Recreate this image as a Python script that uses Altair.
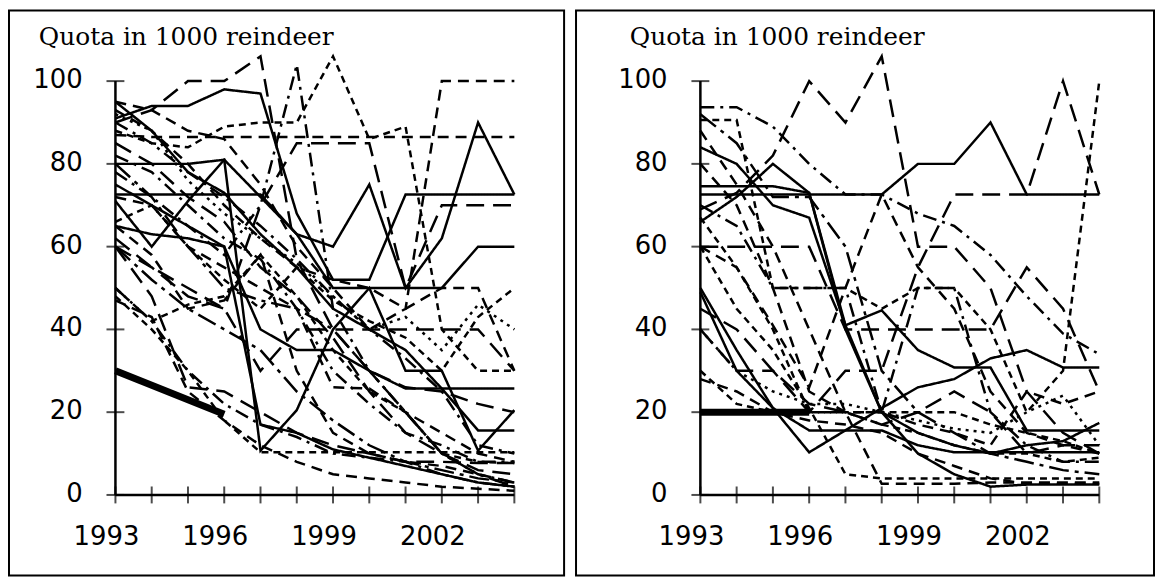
import altair as alt
import pandas as pd

YEARS = list(range(1993, 2005))
X_LABELS = [1993, 1996, 1999, 2002]
Y_LABELS = [0, 20, 40, 60, 80, 100]
TITLE = "Quota in 1000 reindeer"

STYLE_NAMES = ["solid", "dash", "shortdash", "longdash", "dashdot", "longdashdot", "dot"]
STYLE_DASHES = [[1, 0], [11, 7], [7, 5], [18, 9], [14, 6, 3, 6], [20, 6, 4, 6], [3, 5]]

# ---------------- left panel ----------------
left_L1 = [91, 94, 94, 98, 97, 68, 52, 52, 72.6, 72.6, 72.6, 72.6]
left_L2 = [75, 70, 65, 60, 40, 35, 35, 30, 25.7, 25.7, 25.7, 25.7]
left_L3 = [71, 60, 71, 81, 72, 63, 60, 75, 50, 62, 90, 72.6]
left_L4 = [80, 80, 80, 81, 10.7, 20.5, 40, 50, 30, 30, 10.7, 20.5]
left_L5 = [72.6, 72.6, 72.6, 72.6, 72.6, 63, 50, 50, 50, 50, 60, 60]
left_L6 = [65, 63, 62, 60, 17, 15, 11, 9, 7, 5, 3, 2]
left_L7 = [95, 88, 78, 73, 63, 55, 45, 40, 35, 25.7, 15.6, 15.6]
left_D1 = [87, 86.5, 86.5, 86.5, 86.5, 86.5, 86.5, 86.5, 86.5, 86.5, 86.5, 86.5]
left_D2 = [88, 85, 84, 89, 90, 90, 106, 86, 89, 40, 30, 30]
left_D3 = [95, 93, 88, 86, 75, 60, 50, 40, 45, 100, 100, 100]
left_D4 = [60, 55, 48, 45, 70, 85, 85, 85, 50, 70, 70, 70]
left_D5 = [62, 55, 50, 45, 30, 40, 40, 40, 40, 40, 40, 30]
left_D6 = [90, 85, 78, 72, 65, 57, 48, 40, 33, 25, 12, 10]
left_D7 = [50, 42, 46, 48, 58, 48, 35, 25, 20, 10, 8, 7.7]
left_D8 = [90, 93, 100, 100, 106, 57, 40, 30, 26, 25, 22, 20]
left_D9 = [78, 72, 65, 58, 70, 104, 45, 30, 20, 10, 5, 3]
left_D10 = [65, 58, 45, 47, 58, 30, 15, 10, 8, 7, 5, 3]
left_D11 = [48, 40, 30, 18, 10.3, 10.3, 10.3, 10.3, 10.3, 10.3, 10.3, 10.3]
left_D12 = [60, 48, 26, 25, 20, 15, 12, 10, 8, 8, 7.7, 7.7]
left_D13 = [50, 42, 30, 22, 17, 14, 10, 9, 8, 5, 3, 2]
left_D14 = [47, 43, 25, 18, 12, 8, 5, 4, 3, 2, 1.5, 1]
left_D15 = [60, 52, 45, 40, 35, 25, 18, 12, 8, 6, 4, 3]
left_D16 = [85, 80, 72, 66, 55, 48, 38, 25, 15, 10, 6, 5]
left_D17 = [82, 78, 70, 62, 57, 45, 30, 22, 15, 12, 8, 8]
left_D18 = [93, 88, 80, 70, 62, 55, 52, 50, 45, 50, 50, 30]
left_D19 = [66, 70, 60, 52, 45, 55, 47, 42, 38, 30, 43, 50]
left_D20 = [92, 88, 76, 68, 62, 56, 48, 40, 43, 35, 46, 40]
left_D21 = [80, 72, 60, 50, 47, 45, 40, 30, 20, 10, 5, 2]
left_D22 = [72, 70, 60, 55, 50, 45, 26, 25.7, 20, 15, 10, 8]
left_thick = [30, None, None, 19.5]

LEFT_SERIES = [
    ("L1", "solid", left_L1), ("L2", "solid", left_L2), ("L3", "solid", left_L3),
    ("L4", "solid", left_L4), ("L5", "solid", left_L5), ("L6", "solid", left_L6),
    ("L7", "solid", left_L7),
    ("D1", "dash", left_D1), ("D2", "shortdash", left_D2), ("D3", "dash", left_D3),
    ("D4", "longdash", left_D4), ("D5", "longdash", left_D5), ("D6", "dashdot", left_D6),
    ("D7", "shortdash", left_D7), ("D8", "longdash", left_D8), ("D9", "dashdot", left_D9),
    ("D10", "dash", left_D10), ("D11", "shortdash", left_D11), ("D12", "longdash", left_D12),
    ("D13", "dashdot", left_D13), ("D14", "dash", left_D14), ("D15", "longdashdot", left_D15),
    ("D16", "longdash", left_D16), ("D17", "dashdot", left_D17), ("D18", "dash", left_D18),
    ("D19", "shortdash", left_D19), ("D20", "dot", left_D20), ("D21", "longdashdot", left_D21),
    ("D22", "dash", left_D22),
]

# ---------------- right panel ----------------
right_R1 = [72.6, 72.6, 72.6, 72.6, 72.6, 72.6, 80, 80, 90, 72.6, 72.6, 72.6]
right_R2 = [84, 80, 70, 67, 41, 44.6, 35, 30.8, 30.8, 15.6, 15.6, 15.6]
right_R3 = [74.6, 74.6, 74.6, 73, 41, 20, 10, 5, 2, 2.5, 2.5, 2.5]
right_R4 = [50, 35, 21, 10.3, 15.6, 21, 26, 28, 33, 35, 30.8, 30.8]
right_R5 = [66, 72, 80, 73, 40, 20, 15, 12, 10, 12, 13, 17.4]
right_R6 = [49, 30, 21, 15.6, 15.6, 15.6, 12, 10.3, 10.3, 10.3, 10.3, 10.3]
right_D1 = [69, 73, 82, 100, 90, 106, 60, 60, 50, 25, 15, 10]
right_D2 = [40, 30, 30, 20, 30, 30, 55, 72.6, 72.6, 72.6, 100, 72.6]
right_D3 = [93.7, 93.7, 89, 80, 72.6, 72.6, 68, 65, 58, 48, 39, 34]
right_D4 = [90.6, 90.6, 50, 50, 50, 45, 50, 50, 40, 20, 30, 100]
right_D5 = [60, 60, 60, 60, 40, 40, 40, 40, 40, 55, 45, 25]
right_D6 = [60, 55, 41, 26, 50, 72.6, 55, 45, 25, 15, 12, 10]
right_D7 = [30, 22, 20, 20, 20, 20, 20, 20, 17, 15, 13, 10]
right_D8 = [60, 45, 35, 21, 5, 4, 4, 4, 4, 4, 4, 4]
right_D9 = [28, 25, 20, 18, 17, 15, 10, 7, 4, 2.7, 2.7, 2.7]
right_D10 = [92, 85, 72, 72, 60, 30, 20, 15, 10, 8, 6, 5]
right_D11 = [70, 65, 50, 50, 50, 20, 50, 50, 20, 12, 8, 8]
right_D12 = [88, 75, 60, 40, 20, 2.7, 2.7, 2.7, 3, 3, 3, 3]
right_D13 = [67, 55, 40, 20, 20, 17, 15, 12, 10, 10, 8, 9]
right_D14 = [45, 40, 30, 22, 20, 17, 20, 25, 20, 10, 12, 12]
right_D15 = [80, 70, 50, 25, 20, 20, 17, 15, 12, 25, 22, 25]
right_D16 = [40, 30, 25, 22, 22, 20, 18, 16, 15, 20, 24, 12]
right_thick = [20, 20, 20, 20]

RIGHT_SERIES = [
    ("R1", "solid", right_R1), ("R2", "solid", right_R2), ("R3", "solid", right_R3),
    ("R4", "solid", right_R4), ("R5", "solid", right_R5), ("R6", "solid", right_R6),
    ("E1", "longdash", right_D1), ("E2", "longdash", right_D2), ("E3", "dashdot", right_D3),
    ("E4", "shortdash", right_D4), ("E5", "longdash", right_D5), ("E6", "dash", right_D6),
    ("E7", "shortdash", right_D7), ("E8", "shortdash", right_D8), ("E9", "dash", right_D9),
    ("E10", "longdashdot", right_D10), ("E11", "dashdot", right_D11), ("E12", "dash", right_D12),
    ("E13", "shortdash", right_D13), ("E14", "longdash", right_D14), ("E15", "dash", right_D15),
    ("E16", "dot", right_D16),
]


def series_frame(series):
    rows = []
    for name, style, vals in series:
        for yr, v in zip(YEARS, vals):
            if v is not None:
                rows.append({"series": name, "style": style, "year": yr, "value": v})
    return pd.DataFrame(rows)


def thick_frame(vals):
    return pd.DataFrame([{"year": yr, "value": v} for yr, v in zip(YEARS, vals) if v is not None])


def panel(series, thick, width, height, axis_px, px_per_year, title_dx):
    px_per_unit = 4.16
    zero_from_top = 487
    x0 = 1993 - axis_px / px_per_year
    x1 = 1993 + (width - axis_px) / px_per_year
    y1 = zero_from_top / px_per_unit
    y0 = -(height - zero_from_top) / px_per_unit
    xs = alt.Scale(domain=[x0, x1], nice=False, zero=False)
    ys = alt.Scale(domain=[y0, y1], nice=False, zero=False)

    df = series_frame(series)

    lines = alt.Chart(df).mark_line(clip=True, strokeWidth=2.5, color="black").encode(
        x=alt.X("year:Q", scale=xs, axis=None),
        y=alt.Y("value:Q", scale=ys, axis=None),
        detail="series:N",
        strokeDash=alt.StrokeDash(
            "style:N", scale=alt.Scale(domain=STYLE_NAMES, range=STYLE_DASHES), legend=None
        ),
    )
    thick_line = alt.Chart(thick_frame(thick)).mark_line(
        strokeWidth=7, color="black", strokeCap="butt"
    ).encode(x=alt.X("year:Q", scale=xs), y=alt.Y("value:Q", scale=ys))

    yaxis_df = pd.DataFrame({"x": [1993], "y": [0], "y2": [100]})
    yaxis = alt.Chart(yaxis_df).mark_rule(color="black", strokeWidth=2.5).encode(
        x=alt.X("x:Q", scale=xs), y=alt.Y("y:Q", scale=ys), y2="y2:Q"
    )
    xaxis_df = pd.DataFrame({"x": [1993], "x2": [2004], "y": [0]})
    xaxis = alt.Chart(xaxis_df).mark_rule(color="black", strokeWidth=2.5).encode(
        x=alt.X("x:Q", scale=xs), x2="x2:Q", y=alt.Y("y:Q", scale=ys)
    )
    xt_df = pd.DataFrame({"year": YEARS, "zero": [0] * len(YEARS)})
    xticks = alt.Chart(xt_df).mark_tick(orient="vertical", size=17, thickness=2, color="black").encode(
        x=alt.X("year:Q", scale=xs), y=alt.Y("zero:Q", scale=ys)
    )
    yt_df = pd.DataFrame({"val": Y_LABELS, "x0": [1993] * len(Y_LABELS)})
    yticks = alt.Chart(yt_df).mark_tick(orient="horizontal", size=18, thickness=2, color="black").encode(
        x=alt.X("x0:Q", scale=xs), y=alt.Y("val:Q", scale=ys)
    )
    xl_df = pd.DataFrame({"year": X_LABELS, "zero": [0] * len(X_LABELS), "label": [str(v) for v in X_LABELS]})
    xlabels = alt.Chart(xl_df).mark_text(
        align="center", baseline="alphabetic", dx=-9, dy=50, fontSize=26, font="DejaVu Sans", color="black"
    ).encode(x=alt.X("year:Q", scale=xs), y=alt.Y("zero:Q", scale=ys), text="label:N")
    yl_df = pd.DataFrame({"val": Y_LABELS, "x0": [1993] * len(Y_LABELS), "label": [str(v) for v in Y_LABELS]})
    ylabels = alt.Chart(yl_df).mark_text(
        align="right", baseline="alphabetic", dx=-33, dy=7, fontSize=26, font="DejaVu Sans", color="black"
    ).encode(x=alt.X("x0:Q", scale=xs), y=alt.Y("val:Q", scale=ys), text="label:N")
    title = alt.Chart(pd.DataFrame({"t": [TITLE]})).mark_text(
        align="left", baseline="alphabetic", fontSize=25, font="DejaVu Serif", color="black"
    ).encode(x=alt.value(title_dx), y=alt.value(35), text="t:N")

    return alt.layer(lines, thick_line, yaxis, xaxis, xticks, yticks, xlabels, ylabels, title).properties(
        width=width, height=height
    )


left = panel(LEFT_SERIES, left_thick, 558, 568, 107, 401 / 11, 30)
right = panel(RIGHT_SERIES, right_thick, 581, 568, 125, 401 / 11, 54)

chart = alt.hconcat(left, right, spacing=10).properties(padding=0, background="white").configure_view(
    stroke="black", strokeWidth=2
)

chart.save("out.html", embed_options={"renderer": "svg", "actions": False})
